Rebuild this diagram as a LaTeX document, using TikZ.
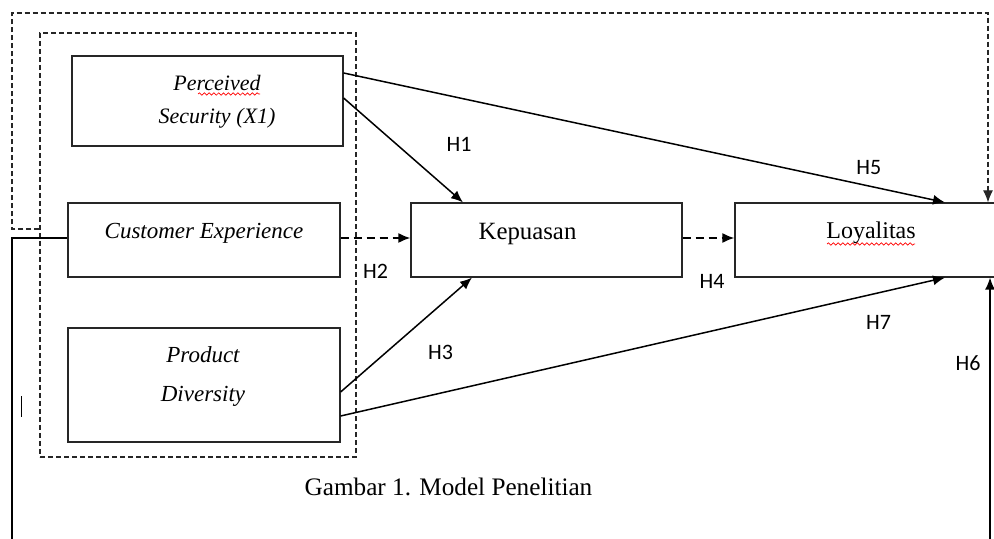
\documentclass[tikz,border=0pt]{standalone}
\usepackage{fontspec}
\setmainfont{Liberation Serif}
\newfontfamily\hfont{Carlito}
\usepackage{tikz}
\usetikzlibrary{arrows.meta,positioning}
\usetikzlibrary{decorations.pathmorphing}

\begin{document}
\begin{tikzpicture}[x=0.5pt,y=-0.5pt,on grid]
    \tikzset{box/.style={draw=black!85,line width=.6pt,minimum width=136pt,minimum height=37pt,inner sep=0pt},
      group/.style={draw=black!85,line width=.55pt,dash pattern=on 2.6pt off 1.4pt,inner sep=0pt},
      txt/.style={font=\fontsize{12}{14}\selectfont,inner sep=0pt},
      itxt/.style={font=\fontsize{11.5}{19.5}\selectfont\itshape,align=center,inner sep=0pt},
      hyp/.style={font=\hfont\fontsize{11}{13}\selectfont,inner sep=1pt},
      tip/.style={-{Latex[length=6pt,width=5pt]}},
      conn/.style={line width=.75pt,tip},
      dashconn/.style={conn,line width=.9pt,dash pattern=on 4pt off 2.5pt},
      spell/.style={red,line width=.35pt,decorate,decoration={snake,amplitude=.6pt,segment length=2.4pt}}}
    \useasboundingbox (0,0) rectangle (994,539);
    \clip (0,0) rectangle (994,539);

    \node[box] (ce) at (204,240) {};
    \node[box,minimum width=135.5pt,minimum height=45pt] (ps) [above right=69.5pt and 1.75pt of ce] {};
    \node[box,minimum height=57pt] (pd) [below=72.5pt of ce] {};
    \node[box,minimum width=135.5pt] (kep) [right=171.25pt of ce] {};
    \node[box] (loy) [right=162.25pt of kep] {};
    \node[group,minimum width=158pt,minimum height=212pt] (grp) at (198,245) {};

    \node[itxt,font=\fontsize{11}{16.5}\selectfont\itshape] (ps-t) at ([xshift=4.75pt,yshift=-.25pt]ps.center) {Perceived\\Security (X1)};
    \node[txt,anchor=base,font=\fontsize{11.5}{14}\selectfont\itshape] (ce-t) at ([yshift=.5pt]ce.center) {Customer Experience};
    \node[itxt] (pd-t) at ([xshift=-.5pt,yshift=4pt]pd.center) {Product\\Diversity};
    \node[txt,anchor=base,font=\fontsize{12.4}{14}\selectfont] (kep-t) at ([xshift=-9.5pt]kep.center) {Kepuasan};
    \node[txt,anchor=base] (loy-t) at ([yshift=.5pt]loy.center) {Loyalitas};
    \node[txt,anchor=base,font=\fontsize{12.6}{14}\selectfont] (cap) at (448.5,495) {Gambar 1. Model Penelitian};

    \coordinate (b0) at (12,545);
    \coordinate (b6) at (990,545);
    \coordinate (c0) at (12,229);
    \coordinate (c1) at (988,13);

    \path[conn]
    ([yshift=14pt]ps.east)
    edge [] node [hyp,pos=.87,xshift=1pt,yshift=9pt] {H5} ([xshift=37pt]loy.north)
    ([yshift=1.5pt]ps.east)
    edge [] node [hyp,pos=.44,xshift=31.5pt] {H1} ([xshift=-41.75pt]kep.north)
    ([yshift=1pt]ce.east)
    edge [dashconn] node [hyp,pos=.5,yshift=-16.5pt] {H2} ([yshift=1pt]kep.west)
    ([yshift=1pt]kep.east)
    edge [dashconn] node [hyp,pos=.57,yshift=-21.5pt] {H4} ([yshift=1pt]loy.west)
    ([yshift=-3.5pt]pd.east)
    edge [] node [hyp,pos=.35,xshift=27pt] {H3} ([xshift=-37.25pt]kep.south)
    ([yshift=-15.5pt]pd.east)
    edge [] node [hyp,pos=.89,yshift=-15pt] {H7} ([xshift=37pt]loy.south)
    (b6)
    edge [] node [hyp,pos=.68,xshift=-11pt] {H6} ([xshift=59.5pt]loy.south)
    ;

    \draw[line width=.75pt] ([yshift=1pt]ce.west) -| (b0);
    \draw[group,tip] ([yshift=8pt]grp.west) -- (c0) |- (c1) -- ([xshift=58.5pt]loy.north);

    \draw[spell] (198,94) -- (260,94);
    \draw[spell] (827,244) -- (915,244);
    \draw[line width=.5pt] (21,396) -- (21,417);
\end{tikzpicture}
\end{document}
